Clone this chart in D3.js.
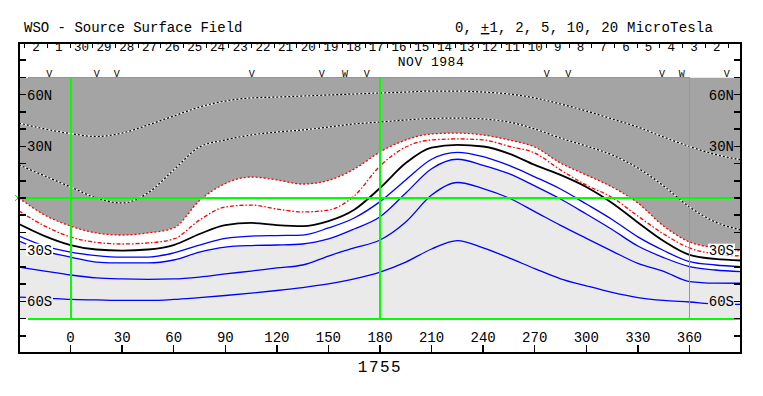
<!DOCTYPE html>
<html>
<head>
<meta charset="utf-8">
<script src="https://cdn.jsdelivr.net/npm/d3@7"></script>
<style>
body { margin: 0; background: #fff; }
svg { display: block; }
text { font-family: "Liberation Mono", "DejaVu Sans Mono", monospace; fill: #000; }
</style>
</head>
<body>
<script>
// carrington longitude grid, every 15 deg (plot runs a bit past 0..360)
var lons = [-30, -15, 0, 15, 30, 45, 60, 75, 90, 105, 120, 135, 150, 165, 180,
            195, 210, 225, 240, 255, 270, 285, 300, 315, 330, 345, 360, 375, 390];

// contour latitudes
var pos_10 = [43.5, 40.1, 37.4, 35.7, 37.7, 42.4, 47.6, 52.8, 56.3, 58.1, 58.6, 59.2, 59.8, 60.4, 61.0,
              61.5, 62.1, 62.1, 61.5, 60.4, 58.1, 54.6, 50.5, 45.9, 41.2, 35.4, 29.9, 25.3, 22.1];
var pos_5 = [19.2, 12.8, 6.4, 0, -2.9, 2.9, 16.3, 29.6, 33.7, 36.6, 38.3, 39.5, 41.2, 43.0, 44.1,
             45.3, 46.2, 46.4, 45.9, 44.1, 40.1, 34.8, 30.2, 25.0, 17.4, 7.0, -5.2, -13.9, -18.6];
var pos_2 = [0, -9.9, -16.3, -20.3, -21.5, -20.3, -17.4, -1.5, 8.4, 12.2, 10.5, 8.1, 10.2, 16.8, 26.7,
             33.7, 37.2, 37.7, 36.6, 33.7, 29.6, 20.3, 13.4, 6.4, -2.9, -16.3, -25.5, -29, -30.8];
var pos_1 = [-7.5, -16.3, -22.6, -25.8, -26.7, -26.1, -23.8, -12.8, -5.2, -4.1, -6.4, -8.1, -7, 1.2, 18.6,
             29.6, 33.7, 34.3, 33.7, 30, 26.1, 16.3, 7.5, 0.3, -10.5, -20.9, -29, -32.5, -33.7];
var neutral = [-15.1, -22.1, -27.3, -29.9, -30.5, -29.9, -27.3, -20.9, -15.7, -14.5, -15.7, -16.3, -13.4, -6.8, 5.8,
               20.3, 29.3, 30.8, 29.9, 25.8, 19.2, 13.4, 6.4, -2.9, -14.2, -25, -33, -35.4, -36.3];
var neg_1 = [-22.1, -27.9, -31.4, -33.4, -34.3, -34.3, -31.9, -27.3, -23.5, -22.1, -21.8, -21.5, -17.4, -11.6, -2.1,
             10.5, 22.5, 26.5, 24, 18.9, 12.3, 5.2, -3.5, -12.5, -22.6, -30.5, -36.9, -38.9, -39.9];
var neg_2 = [-25, -30.8, -34.3, -37.2, -37.7, -37.7, -36, -31.4, -28.5, -27.6, -27.3, -26.7, -23.8, -18, -10.9,
             2.9, 17, 22.5, 19, 14.1, 7, -0.6, -9.3, -18.3, -27.9, -34.6, -39.8, -41.8, -42.8];
var neg_5 = [-40.1, -42.4, -44.7, -46.4, -47, -47.2, -47, -45.9, -44.1, -42.4, -40.6, -38.9, -33.7, -29, -24.4,
             -13.9, 1.7, 9, 5.5, 0, -7.9, -15.9, -23.4, -30.8, -38, -42.6, -48.5, -49.4, -49.5];
var neg_10 = [-57.5, -58.1, -58.9, -59.2, -59.5, -59.5, -58.9, -57.8, -56.6, -55.2, -53.7, -52, -49.9, -47, -43,
              -37.2, -29.6, -24.7, -29, -34.8, -41, -46.9, -51, -54.8, -57.8, -59.5, -60.4, -61.5, -61.8];

// header: days of the rotation, and the observation marks
var day_labels = ["2", "1", "30", "29", "28", "27", "26", "25", "24", "23", "22", "21", "20", "19", "18", "17",
                  "16", "15", "14", "13", "12", "11", "10", "9", "8", "7", "6", "5", "4", "3", "2"];
var day_start = -20.1;
var deg_per_day = 360 / 27.2753;
var obs_lons = [-12.4, 15.2, 26.8, 105.4, 146.1, 159.6, 172.3, 277, 289.5, 344, 355.5, 381.7];
var obs_marks = ["V", "V", "V", "V", "V", "W", "V", "V", "V", "V", "W", "V"];

var x_ticks = [0, 30, 60, 90, 120, 150, 180, 210, 240, 270, 300, 330, 360];
var lat_ticks = [-80, -70, -60, -50, -40, -30, -20, -10, 0, 10, 20, 30, 40, 50, 60, 70, 80];
var lat_labels = [[60, "60N"], [30, "30N"], [-30, "30S"], [-60, "60S"]];
var rotation = "1755";

var width = 763, height = 396;
var x = d3.scaleLinear().domain([-30, 390]).range([19, 741]);
var y = d3.scaleLinear().domain([90, -90]).range([43, 353]);

var svg = d3.select("body").append("svg")
	.attr("width", width)
	.attr("height", height);

svg.append("defs").append("clipPath").attr("id", "plot")
	.append("rect")
	.attr("x", x(-30)).attr("y", y(70))
	.attr("width", x(390) - x(-30)).attr("height", y(-70) - y(70));

function pts(vals) {
	return lons.map(function(l, i) { return [l, vals[i]]; });
}

var curve = d3.curveMonotoneX;
var line = d3.line().x(function(d) { return x(d[0]); }).y(function(d) { return y(d[1]); }).curve(curve);
var area_top = d3.area().x(function(d) { return x(d[0]); }).y0(y(70)).y1(function(d) { return y(d[1]); }).curve(curve);
var area_bot = d3.area().x(function(d) { return x(d[0]); }).y0(function(d) { return y(d[1]); }).y1(y(-70)).curve(curve);

var plot = svg.append("g").attr("clip-path", "url(#plot)");

// shading: positive region dark, negative region light, white band between
plot.append("path").attr("d", area_top(pts(pos_2))).attr("fill", "#a4a4a4");
plot.append("path").attr("d", area_bot(pts(neg_2))).attr("fill", "#eaeaea");

// positive contours inside the grey: black/white dots
[pos_10, pos_5].forEach(function(v) {
	plot.append("path").attr("d", line(pts(v))).attr("fill", "none")
		.attr("stroke", "#fff").attr("stroke-width", 1.2);
	plot.append("path").attr("d", line(pts(v))).attr("fill", "none")
		.attr("stroke", "#000").attr("stroke-width", 1.2).attr("stroke-dasharray", "2,2");
});

plot.append("path").attr("d", line(pts(pos_2))).attr("fill", "none")
	.attr("stroke", "#ff0000").attr("stroke-width", 1.3).attr("stroke-dasharray", "2,2");
plot.append("path").attr("d", line(pts(pos_1))).attr("fill", "none")
	.attr("stroke", "#ff0000").attr("stroke-width", 1.3).attr("stroke-dasharray", "4,2,1.5,2");

[neg_1, neg_2, neg_5, neg_10].forEach(function(v) {
	plot.append("path").attr("d", line(pts(v))).attr("fill", "none")
		.attr("stroke", "#0000ff").attr("stroke-width", 1.3);
});

plot.append("path").attr("d", line(pts(neutral))).attr("fill", "none")
	.attr("stroke", "#000").attr("stroke-width", 1.8);

// green grid
var green = svg.append("g").attr("stroke", "#00ff00").attr("shape-rendering", "crispEdges");
green.append("line").attr("x1", x(-30)).attr("x2", x(390)).attr("y1", y(0)).attr("y2", y(0)).attr("stroke-width", 2);
green.append("line").attr("x1", x(-25)).attr("x2", x(360)).attr("y1", y(70)).attr("y2", y(70)).attr("stroke-width", 1.5);
green.append("line").attr("x1", x(-25)).attr("x2", x(390)).attr("y1", y(-70)).attr("y2", y(-70)).attr("stroke-width", 2);
[0, 180].forEach(function(l) {
	green.append("line").attr("x1", x(l)).attr("x2", x(l)).attr("y1", y(70)).attr("y2", y(-70)).attr("stroke-width", 2);
});
green.append("line").attr("x1", x(360)).attr("x2", x(360)).attr("y1", y(70)).attr("y2", y(-70)).attr("stroke-width", 1);
svg.append("path")
	.attr("d", "M" + (x(-30) - 4) + "," + (y(0) - 3) + "L" + (x(-30) - 1) + "," + y(0) + "L" + (x(-30) - 4) + "," + (y(0) + 3))
	.attr("fill", "none").attr("stroke", "#00ff00").attr("stroke-width", 1);

// latitude labels, some sit on a little box that hides the lines
lat_labels.forEach(function(d) {
	var bg = d[0] == -30 ? "#fff" : (d[0] == -60 ? "#eaeaea" : null);
	if (bg) {
		svg.append("rect").attr("x", x(-30) + 7).attr("y", y(d[0]) - 6).attr("width", 27).attr("height", 12).attr("fill", bg);
		svg.append("rect").attr("x", x(390) - 33).attr("y", y(d[0]) - 6).attr("width", 27).attr("height", 12).attr("fill", bg);
	}
	svg.append("text").attr("x", x(-30) + 8).attr("y", y(d[0]) + 5)
		.attr("font-size", "14px").text(d[1]);
	svg.append("text").attr("x", x(390) - 7).attr("y", y(d[0]) + 5)
		.attr("font-size", "14px").attr("text-anchor", "end").text(d[1]);
});

// frame and ticks
var axis = svg.append("g").attr("stroke", "#000").attr("shape-rendering", "crispEdges");
axis.append("rect").attr("x", x(-30)).attr("y", y(90)).attr("width", x(390) - x(-30)).attr("height", y(-90) - y(90))
	.attr("fill", "none").attr("stroke-width", 1.5);
lat_ticks.forEach(function(t) {
	axis.append("line").attr("x1", x(-30)).attr("x2", x(-30) + 7).attr("y1", y(t)).attr("y2", y(t)).attr("stroke-width", 1.5);
	axis.append("line").attr("x1", x(390) - 7).attr("x2", x(390)).attr("y1", y(t)).attr("y2", y(t)).attr("stroke-width", 1.5);
});
x_ticks.forEach(function(t) {
	axis.append("line").attr("x1", x(t)).attr("x2", x(t)).attr("y1", y(-90)).attr("y2", y(-90) - 8).attr("stroke-width", 1.5);
	svg.append("text").attr("x", x(t)).attr("y", y(-80) + 6).attr("text-anchor", "middle")
		.attr("font-size", "14px").text(t);
});

// header row with days
day_labels.forEach(function(d, i) {
	var l = day_start + i * deg_per_day;
	svg.append("text").attr("x", x(l)).attr("y", 51).attr("text-anchor", "middle")
		.attr("font-size", "12.5px").text(d);
	axis.append("line").attr("x1", x(l - deg_per_day / 2)).attr("x2", x(l - deg_per_day / 2))
		.attr("y1", y(90)).attr("y2", y(90) + 5).attr("stroke-width", 1);
});
axis.append("line").attr("x1", x(day_start + 30.5 * deg_per_day)).attr("x2", x(day_start + 30.5 * deg_per_day))
	.attr("y1", y(90)).attr("y2", y(90) + 5).attr("stroke-width", 1);

svg.append("text").attr("x", 431).attr("y", 66).attr("text-anchor", "middle")
	.attr("font-size", "13px").attr("letter-spacing", "0.5px").text("NOV 1984");

obs_lons.forEach(function(l, i) {
	svg.append("text").attr("x", x(l)).attr("y", 77).attr("text-anchor", "middle")
		.attr("font-size", "10px").text(obs_marks[i]);
});

// titles
svg.append("text").attr("x", 24).attr("y", 32).attr("font-size", "14px").text("WSO - Source Surface Field");
var units = svg.append("text").attr("x", 455).attr("y", 32).attr("font-size", "14px").attr("letter-spacing", "0.2px");
units.append("tspan").text("0, ");
units.append("tspan").attr("text-decoration", "underline").text("+");
units.append("tspan").text("1, 2, 5, 10, 20 MicroTesla");

svg.append("text").attr("x", x(180)).attr("y", 372).attr("text-anchor", "middle")
	.attr("font-size", "16px").attr("letter-spacing", "1.5px").text(rotation);
</script>
</body>
</html>
